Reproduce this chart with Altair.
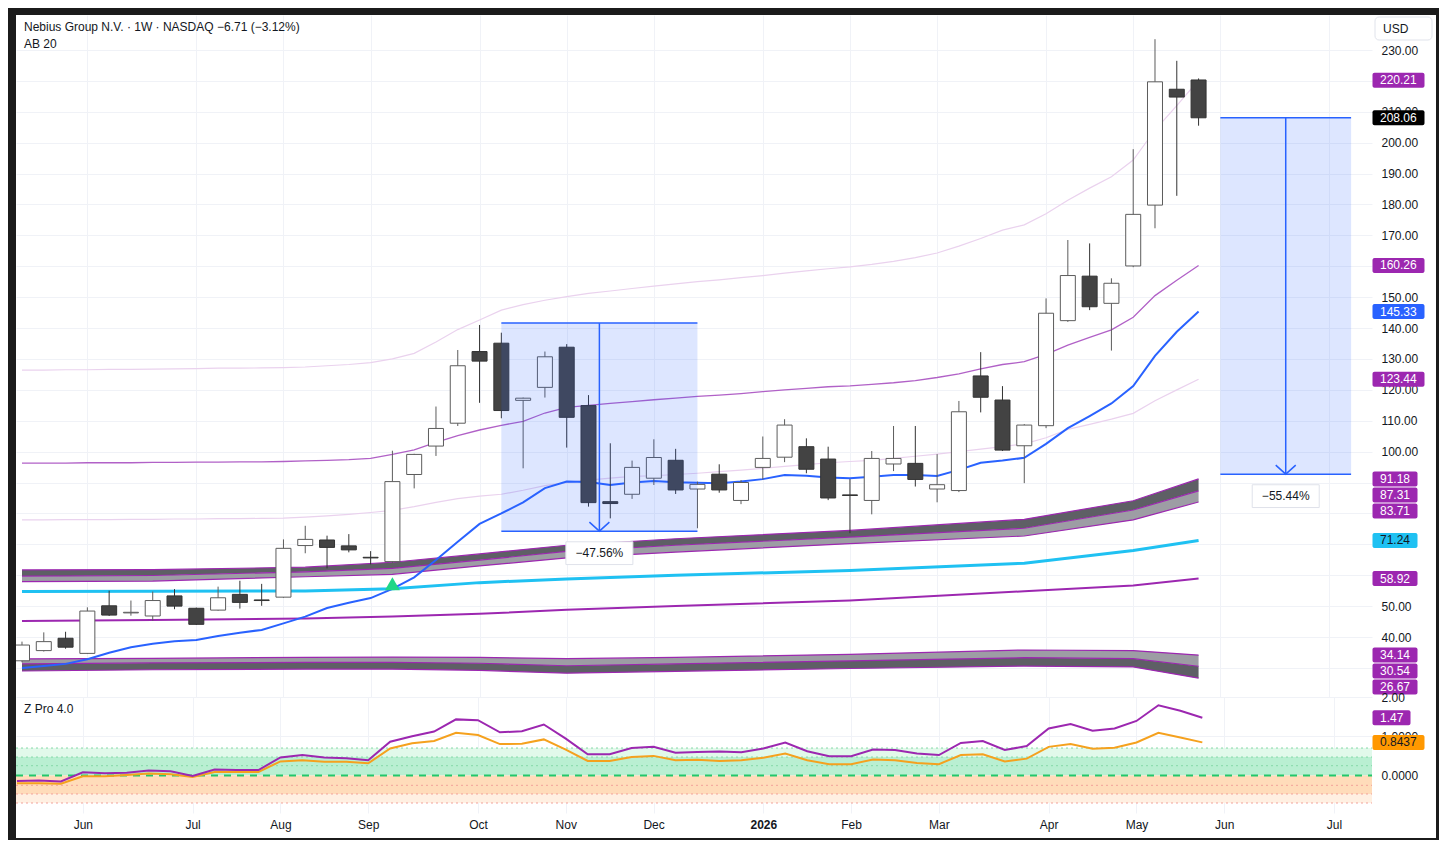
import altair as alt
import pandas as pd

# ----------------------------- DATA -----------------------------
first_week = "2025-05-12"          # first weekly bar on the chart

opens = [32.3, 35.6, 39.6, 34.7, 50.1, 47.8, 46.8, 53.3, 49.3, 48.7,
         53.8, 52.0, 52.9, 69.6, 71.4, 69.5, 65.8, 64.4, 92.6, 101.8,
         109.2, 132.4, 135.1, 116.6, 120.8, 133.8, 114.9, 83.8, 86.2, 91.4,
         97.2, 87.9, 92.7, 84.2, 94.9, 98.2, 101.6, 97.6, 86.0, 84.2,
         96.0, 96.2, 87.9, 87.4, 124.5, 116.7, 101.9, 108.4, 142.4, 156.8,
         148.0, 160.1, 179.8, 217.3, 220.3]
highs = [38.5, 41.5, 41.7, 49.6, 55.0, 51.8, 54.7, 55.5, 49.5, 56.3,
         58.2, 57.2, 71.6, 76.0, 72.8, 73.3, 67.8, 100.3, 99.3, 114.6,
         132.9, 141.0, 138.5, 117.5, 132.4, 134.8, 118.3, 102.7, 97.1, 104.0,
         100.9, 90.3, 95.9, 90.8, 104.9, 110.5, 104.3, 101.6, 91.1, 100.2,
         108.3, 108.3, 99.2, 116.4, 132.2, 121.2, 108.9, 149.6, 168.5, 167.4,
         156.1, 197.9, 233.5, 226.5, 220.8]
lows = [31.8, 35.3, 36.2, 34.5, 46.8, 46.9, 45.3, 49.0, 43.9, 48.5,
        49.2, 50.1, 52.7, 67.1, 62.2, 67.4, 63.5, 63.9, 88.1, 98.6,
        108.3, 115.8, 110.8, 94.6, 117.5, 101.3, 82.2, 78.4, 84.7, 89.2,
        86.3, 75.2, 86.7, 83.0, 91.0, 96.6, 93.0, 84.3, 73.6, 79.7,
        93.7, 88.7, 83.6, 86.9, 112.7, 100.2, 89.8, 107.6, 142.0, 145.8,
        132.7, 159.7, 172.3, 182.8, 205.5]
closes = [37.4, 38.5, 36.7, 48.4, 47.1, 48.0, 51.8, 50.0, 44.1, 52.7,
          51.2, 51.8, 68.7, 71.6, 69.0, 68.2, 65.6, 90.3, 99.1, 107.5,
          127.8, 129.3, 113.3, 117.3, 130.7, 111.1, 83.5, 83.2, 94.9, 98.1,
          87.6, 89.4, 87.6, 90.0, 97.8, 108.6, 94.3, 85.0, 85.8, 97.8,
          97.8, 91.0, 89.3, 112.9, 117.6, 100.5, 108.6, 144.8, 157.0, 146.9,
          154.5, 176.8, 219.7, 214.77, 208.06]

# AB 20 (blue) line, one value per week
ab20 = [30.0, 30.6, 31.3, 32.8, 34.9, 36.7, 37.8, 38.6, 39.0, 40.3,
        41.4, 42.3, 44.4, 46.6, 49.4, 51.1, 52.6, 55.6, 59.3, 64.9,
        70.8, 76.6, 80.0, 83.6, 88.2, 90.3, 90.2, 89.2, 90.0, 90.5,
        90.1, 89.9, 89.8, 90.3, 91.1, 92.4, 92.2, 91.6, 91.4, 91.9,
        92.4, 92.4, 92.1, 94.1, 96.4, 97.1, 98.0, 102.5, 107.6, 111.5,
        115.6, 121.2, 131.0, 138.8, 145.33]
# thin purple middle line
mid_line = [96.3, 96.3, 96.3, 96.4, 96.4, 96.4, 96.5, 96.5, 96.6, 96.6,
            96.7, 96.7, 96.8, 97.0, 97.2, 97.4, 97.8, 99.1, 100.6, 103.0,
            105.2, 107.0, 108.5, 109.8, 112.5, 114.3, 115.0, 115.6, 116.2, 116.8,
            117.3, 117.9, 118.3, 118.8, 119.4, 120.0, 120.5, 121.0, 121.3, 121.8,
            122.3, 123.0, 124.0, 125.2, 126.8, 128.2, 129.1, 131.5, 134.5, 137.0,
            139.4, 143.5, 150.5, 155.5, 160.26]
# light pink envelope lines
upper_env = [126.4, 126.4, 126.5, 126.5, 126.6, 126.6, 126.7, 126.8, 126.9, 127.0,
             127.0, 127.1, 127.2, 127.4, 127.8, 128.2, 128.8, 130.0, 131.8, 135.5,
             139.5, 142.6, 145.8, 147.6, 149.0, 150.2, 151.2, 152.0, 152.8, 153.6,
             154.3, 155.0, 155.6, 156.3, 157.0, 157.8, 158.5, 159.2, 159.8, 160.6,
             161.6, 162.8, 164.3, 166.5, 169.0, 171.7, 173.4, 177.0, 181.4, 185.3,
             189.0, 194.4, 204.1, 212.0, 220.21]
lower_env = [77.9, 77.9, 78.0, 78.0, 78.0, 78.1, 78.1, 78.2, 78.2, 78.3,
             78.3, 78.4, 78.5, 78.8, 79.2, 79.7, 80.3, 81.0, 82.2, 83.6,
             84.8, 85.6, 86.2, 87.5, 89.0, 90.0, 90.8, 91.4, 92.0, 92.2,
             92.6, 93.0, 93.5, 94.0, 94.6, 95.2, 95.8, 96.4, 96.8, 97.2,
             97.8, 98.5, 99.2, 100.0, 100.8, 101.6, 102.5, 104.5, 107.2, 108.8,
             110.5, 112.4, 116.5, 120.0, 123.44]

# slow lines / bands (read at these bar positions)
slow_idx = [0, 6, 13, 17, 21, 25, 30, 38, 46, 51, 54]
hb_top = [61.7, 61.8, 62.6, 64.2, 66.9, 69.7, 71.8, 74.5, 78.1, 84.1, 91.18]
hb_mid = [59.7, 59.9, 61.1, 62.2, 64.9, 67.7, 69.7, 72.3, 75.2, 81.1, 87.31]
hb_bot = [57.9, 58.1, 59.5, 60.3, 63.0, 65.6, 67.5, 70.2, 72.7, 77.9, 83.71]
cyan_line = [54.7, 54.8, 54.9, 55.6, 57.6, 58.8, 60.0, 61.5, 63.9, 68.0, 71.24]
purple_line = [45.2, 45.5, 46.0, 46.6, 47.5, 48.8, 50.0, 51.8, 54.8, 56.7, 58.92]
lb_top = [32.9, 33.1, 33.4, 33.5, 33.4, 33.0, 33.4, 34.4, 35.8, 35.6, 34.14]
lb_mid = [31.3, 31.6, 31.8, 31.8, 31.5, 30.7, 31.3, 32.3, 33.3, 33.0, 30.54]
lb_bot = [29.0, 29.4, 29.6, 29.6, 29.2, 28.3, 28.9, 29.8, 30.6, 30.3, 26.67]

# Z Pro 4.0 oscillator
z_fast = [-0.14, -0.13, -0.15, 0.08, 0.06, 0.07, 0.13, 0.11, -0.01, 0.15,
          0.14, 0.14, 0.46, 0.52, 0.46, 0.44, 0.39, 0.86, 1.00, 1.12,
          1.43, 1.41, 1.10, 1.13, 1.30, 0.94, 0.54, 0.54, 0.70, 0.73,
          0.58, 0.60, 0.61, 0.59, 0.69, 0.84, 0.62, 0.49, 0.49, 0.66,
          0.65, 0.56, 0.52, 0.83, 0.88, 0.65, 0.75, 1.20, 1.31, 1.14,
          1.20, 1.39, 1.79, 1.65, 1.47]
z_slow = [-0.20, -0.20, -0.21, -0.02, -0.02, 0.01, 0.05, 0.03, -0.04, 0.09,
          0.09, 0.09, 0.36, 0.39, 0.35, 0.35, 0.31, 0.69, 0.82, 0.88,
          1.09, 1.03, 0.80, 0.81, 0.92, 0.66, 0.37, 0.37, 0.47, 0.50,
          0.39, 0.40, 0.37, 0.39, 0.45, 0.56, 0.39, 0.29, 0.29, 0.41,
          0.39, 0.32, 0.29, 0.52, 0.54, 0.36, 0.43, 0.73, 0.80, 0.68,
          0.71, 0.84, 1.09, 0.97, 0.8437]
zone_lo = [0.47, 0.0, -0.47, -0.70]
zone_hi = [0.70, 0.47, 0.0, -0.47]
zone_colors = ["#e2f9eb", "#b9efd2", "#ffdcba", "#fff0e2"]
dot_levels = [0.70, 0.47, 0.25, -0.25, -0.47, -0.70]
dot_colors = ["#86d9a8", "#86d9a8", "#86d9a8", "#f2a19b", "#f2a19b", "#f2a19b"]

# signal marker (green triangle)
signal_idx = [17]
signal_val = [57.2]

# price-range measurements
meas_start = [22, 55]
meas_end = [31, 61]
meas_from = [141.6, 208.06]
meas_pct = [-47.56, -55.44]

# month ticks (first weekly bar of each month)
tick_dates = ["2025-06-02", "2025-07-07", "2025-08-04", "2025-09-01", "2025-10-06",
              "2025-11-03", "2025-12-01", "2026-01-05", "2026-02-02", "2026-03-02",
              "2026-04-06", "2026-05-04", "2026-06-01", "2026-07-06"]
tick_labels = ["Jun", "Jul", "Aug", "Sep", "Oct", "Nov", "Dec", "2026",
               "Feb", "Mar", "Apr", "May", "Jun", "Jul"]
price_ticks = list(range(30, 240, 10))

# right-scale value tags
price_tag_vals = [220.21, 208.06, 160.26, 145.33, 123.44, 91.18, 87.31, 83.71,
                  71.24, 58.92, 34.14, 30.54, 26.67]
price_tag_bg = ["#9c27b0", "#000000", "#9c27b0", "#2962ff", "#9c27b0", "#9c27b0",
                "#9c27b0", "#9c27b0", "#1fc1f2", "#9c27b0", "#9c27b0", "#9c27b0",
                "#9c27b0"]
price_tag_fg = ["white", "white", "white", "white", "white", "white", "white",
                "white", "#131722", "white", "white", "white", "white"]
z_tag_vals = [1.47, 0.8437]
z_tag_dec = [2, 4]
z_tag_bg = ["#9c27b0", "#ff9800"]
z_tag_fg = ["white", "#131722"]

# ----------------------------- LAYOUT -----------------------------
W, H1, H2 = 1356, 682, 116
X_DOM = [-0.0456, 61.73]
Y1_DOM = [20.58, 241.33]
Y2_DOM = [-0.955, 2.0]
TXT = "#131722"
GRID = "#f0f2f7"
PURPLE = "#9c27b0"
BLUE = "#2962ff"
FRAME = "#1b1b1b"
FONT = "Liberation Sans"
TAG_STEP = 16


def to_px(v, dom, H):
    return H * (dom[1] - v) / (dom[1] - dom[0])


def to_val(p, dom, H):
    return dom[1] - p * (dom[1] - dom[0]) / H


def stack_tags(vals, dom, H):
    order = sorted(range(len(vals)), key=lambda k: -vals[k])
    disp = [0.0] * len(vals)
    prev = -1e9
    for k in order:
        p = max(to_px(vals[k], dom, H), prev + TAG_STEP)
        disp[k] = p
        prev = p
    return disp


start = pd.Timestamp(first_week)
tick_idx = [int(round((pd.Timestamp(d) - start).days / 7)) for d in tick_dates]
year_idx = [t for t, l in zip(tick_idx, tick_labels) if l.isdigit()]

price_disp = stack_tags(price_tag_vals, Y1_DOM, H1)
# axis labels completely hidden under a value tag are left blank (their grid stays)
hidden = [t for t in price_ticks
          if any(abs(to_px(t, Y1_DOM, H1) - p) < 5 for p in price_disp)]

n = len(opens)
weekly = pd.DataFrame({
    "i": list(range(n)), "o": opens, "h": highs, "l": lows, "c": closes,
    "ab20": ab20, "mid": mid_line, "up_env": upper_env, "lo_env": lower_env,
    "zf": z_fast, "zs": z_slow,
})
weekly["body"] = ["#ffffff" if c >= o else "#434343" for o, c in zip(opens, closes)]
weekly["edge"] = ["#5c5c5c" if c >= o else "#333333" for o, c in zip(opens, closes)]

slow = pd.DataFrame({"i": slow_idx, "ht": hb_top, "hm": hb_mid, "hb": hb_bot,
                     "cy": cyan_line, "pu": purple_line,
                     "lt": lb_top, "lm": lb_mid, "lb": lb_bot})

meas = pd.DataFrame({"a": meas_start, "b": meas_end, "top": meas_from, "pct": meas_pct})
meas["m"] = (meas["a"] + meas["b"]) / 2
meas["bot"] = meas["top"] * (1 + meas["pct"] / 100)
meas["txt"] = ["\u2212" + f"{abs(p):.2f}%" for p in meas_pct]

sig = pd.DataFrame({"i": signal_idx, "v": signal_val})

XS = alt.Scale(domain=X_DOM, nice=False, zero=False)
YS1 = alt.Scale(domain=Y1_DOM, nice=False, zero=False)
YS2 = alt.Scale(domain=Y2_DOM, nice=False, zero=False)

AX_XT = alt.Axis(values=tick_idx, labels=False, ticks=False, domain=False, grid=True,
                 gridColor=GRID, title=None)
lab_js = ",".join(f"'{s}'" for s in tick_labels)
val_js = ",".join(str(v) for v in tick_idx)
bold_test = " || ".join(f"datum.value == {v}" for v in year_idx) or "false"
AX_XB = alt.Axis(values=tick_idx, labelExpr=f"[{lab_js}][indexof([{val_js}], datum.value)]",
                 labelFontWeight={"condition": {"test": bold_test, "value": "bold"}, "value": "normal"},
                 ticks=False, tickSize=0, domain=False, grid=True, gridColor=GRID,
                 labelPadding=6, labelFontSize=12, labelColor=TXT, labelFont=FONT,
                 labelOverlap=False, labelFlush=False, title=None)
hid_js = ",".join(str(v) for v in hidden) or "-999"
AX_Y1 = alt.Axis(orient="right", values=price_ticks,
                 labelExpr=f"indexof([{hid_js}], datum.value) >= 0 ? '' : format(datum.value, '.2f')",
                 ticks=False, tickSize=0, domain=False, grid=True, gridColor=GRID, labelPadding=9,
                 labelAlign="left", labelFontSize=12, labelColor=TXT, labelFont=FONT,
                 labelOverlap=False, title=None)
AX_Y2 = alt.Axis(orient="right", values=[0, 1, 2],
                 labelExpr="datum.value == 2 ? '2.00' : format(datum.value, '.4f')",
                 ticks=False, tickSize=0, domain=False, grid=True, gridColor=GRID,
                 labelPadding=9, labelAlign="left", labelFontSize=12, labelColor=TXT,
                 labelFont=FONT, labelOverlap=False, title=None)


def XT(f="i"):
    return alt.X(f"{f}:Q", scale=XS, axis=AX_XT)


def XB(f="i"):
    return alt.X(f"{f}:Q", scale=XS, axis=AX_XB)


def Y1(f):
    return alt.Y(f"{f}:Q", scale=YS1, axis=AX_Y1)


def Y2(f):
    return alt.Y(f"{f}:Q", scale=YS2, axis=AX_Y2)


one = pd.DataFrame({"k": [0]})


def frame(x1, x2, y1, y2):
    return alt.Chart(one).mark_rect(color=FRAME).encode(
        x=alt.value(x1), x2=alt.value(x2), y=alt.value(y1), y2=alt.value(y2))


def tags(vals, texts, bgs, fgs, dom, H, yfun):
    layers = []
    disp = stack_tags(vals, dom, H)
    for k in range(len(vals)):
        px = disp[k]
        df = pd.DataFrame({"lo": [to_val(px + 7.5, dom, H)], "hi": [to_val(px - 7.5, dom, H)],
                           "mid": [to_val(px, dom, H)], "txt": [texts[k]]})
        w = 7 * len(texts[k]) + 10
        layers.append(alt.Chart(df).mark_rect(color=bgs[k], cornerRadius=2).encode(
            x=alt.value(W + 0.5), x2=alt.value(W + 0.5 + w), y=yfun("lo"), y2=alt.Y2("hi")))
        layers.append(alt.Chart(df).mark_text(align="left", baseline="middle", fontSize=12,
                                              font=FONT, color=fgs[k]).encode(
            x=alt.value(W + 8), y=yfun("mid"), text="txt:N"))
    return layers


# ----------------------------- TOP PANE -----------------------------
top_layers = []
S = alt.Chart(slow)
top_layers.append(S.mark_area(color="#5e5f65", clip=True).encode(x=XT(), y=Y1("ht"), y2=alt.Y2("hm")))
top_layers.append(S.mark_area(color="#9d9da4", clip=True).encode(x=XT(), y=Y1("hm"), y2=alt.Y2("hb")))
top_layers.append(S.mark_area(color="#9d9da4", clip=True).encode(x=XT(), y=Y1("lt"), y2=alt.Y2("lm")))
top_layers.append(S.mark_area(color="#5e5f65", clip=True).encode(x=XT(), y=Y1("lm"), y2=alt.Y2("lb")))
for f in ["ht", "hm", "hb", "lt", "lm", "lb"]:
    top_layers.append(S.mark_line(color=PURPLE, strokeWidth=1.2, clip=True).encode(x=XT(), y=Y1(f)))
top_layers.append(S.mark_line(color=PURPLE, strokeWidth=2, clip=True).encode(x=XT(), y=Y1("pu")))
top_layers.append(S.mark_line(color="#1fc1f2", strokeWidth=3, clip=True).encode(x=XT(), y=Y1("cy")))

Wk = alt.Chart(weekly)
top_layers.append(Wk.mark_line(color="#ead2ee", strokeWidth=1.2, clip=True).encode(x=XT(), y=Y1("up_env")))
top_layers.append(Wk.mark_line(color="#ead2ee", strokeWidth=1.2, clip=True).encode(x=XT(), y=Y1("lo_env")))
top_layers.append(Wk.mark_line(color="#b161c7", strokeWidth=1.3, clip=True).encode(x=XT(), y=Y1("mid")))
top_layers.append(Wk.mark_line(color=BLUE, strokeWidth=2, clip=True).encode(x=XT(), y=Y1("ab20")))

# candles
top_layers.append(Wk.mark_rule(strokeWidth=1, clip=True).encode(
    x=XT(), y=Y1("l"), y2=alt.Y2("h"), color=alt.Color("edge:N", scale=None)))
top_layers.append(Wk.mark_bar(size=15, strokeWidth=1, clip=True).encode(
    x=XT(), y=Y1("o"), y2=alt.Y2("c"), fill=alt.Fill("body:N", scale=None),
    stroke=alt.Stroke("edge:N", scale=None)))

# measurements
M = alt.Chart(meas)
top_layers.append(M.mark_rect(color=BLUE, opacity=0.16).encode(
    x=XT("a"), x2=alt.X2("b"), y=Y1("top"), y2=alt.Y2("bot")))
top_layers.append(M.mark_rule(color=BLUE, strokeWidth=1.5).encode(x=XT("a"), x2=alt.X2("b"), y=Y1("top")))
top_layers.append(M.mark_rule(color=BLUE, strokeWidth=1.5).encode(x=XT("a"), x2=alt.X2("b"), y=Y1("bot")))
top_layers.append(M.mark_rule(color=BLUE, strokeWidth=1.5).encode(x=XT("m"), y=Y1("top"), y2=alt.Y2("bot")))
top_layers.append(M.mark_point(shape="M-1,-0.9L0,0L1,-0.9", size=400, filled=False, stroke=BLUE,
                               strokeWidth=1.5, opacity=1).encode(x=XT("m"), y=Y1("bot")))
top_layers.append(M.mark_point(shape="M-1,-0.34L1,-0.34L1,0.34L-1,0.34Z", size=4489, filled=True,
                               fill="white", stroke="#dfe2ea", strokeWidth=1, opacity=1,
                               yOffset=22).encode(x=XT("m"), y=Y1("bot")))
top_layers.append(M.mark_text(yOffset=22, fontSize=12, font=FONT, color=TXT).encode(
    x=XT("m"), y=Y1("bot"), text="txt:N"))

# signal
top_layers.append(alt.Chart(sig).mark_point(shape="triangle-up", size=225, filled=True,
                                            color="#1fd686", opacity=1).encode(x=XT(), y=Y1("v")))

# tags
top_layers += tags(price_tag_vals, [f"{v:.2f}" for v in price_tag_vals], price_tag_bg,
                   price_tag_fg, Y1_DOM, H1, Y1)

# USD box
top_layers.append(alt.Chart(one).mark_rect(fill="white", stroke="#e0e3eb", cornerRadius=4).encode(
    x=alt.value(W + 3), x2=alt.value(W + 60), y=alt.value(2), y2=alt.value(25)))
top_layers.append(alt.Chart(one).mark_text(text="USD", align="left", baseline="middle", fontSize=12,
                                           font=FONT, color=TXT).encode(
    x=alt.value(W + 11), y=alt.value(13.5)))

# titles
chg = closes[-1] - closes[-2]
chg_pct = chg / closes[-2] * 100
sign = "\u2212" if chg < 0 else "+"
title_txt = f"Nebius Group N.V. \u00b7 1W \u00b7 NASDAQ  {sign}{abs(chg):.2f} ({sign}{abs(chg_pct):.2f}%)"
top_layers.append(alt.Chart(one).mark_text(text=title_txt, align="left", baseline="middle",
                                           fontSize=12, font=FONT, color=TXT).encode(
    x=alt.value(8), y=alt.value(12)))
top_layers.append(alt.Chart(one).mark_text(text="AB 20", align="left", baseline="middle",
                                           fontSize=12, font=FONT, color=TXT).encode(
    x=alt.value(8), y=alt.value(29)))

# frame (dark window border)
top_layers += [frame(-8, W + 67, -7, 0), frame(-8, 0, -7, H1), frame(W + 64, W + 67, -7, H1)]

top = alt.layer(*top_layers).properties(width=W, height=H1)

# ----------------------------- BOTTOM PANE -----------------------------
zones = pd.DataFrame({"lo": zone_lo, "hi": zone_hi, "col": zone_colors})
dots = pd.DataFrame({"v": dot_levels, "col": dot_colors})
zero = pd.DataFrame({"v": [0.0]})

bot_layers = []
bot_layers.append(alt.Chart(zones).mark_rect().encode(
    x=alt.value(0), x2=alt.value(W), y=Y2("lo"), y2=alt.Y2("hi"),
    color=alt.Color("col:N", scale=None)))
bot_layers.append(alt.Chart(dots).mark_rule(strokeWidth=1, strokeDash=[2, 3]).encode(
    x=alt.value(0), x2=alt.value(W), y=Y2("v"), color=alt.Color("col:N", scale=None)))
bot_layers.append(alt.Chart(zero).mark_rule(strokeWidth=2, strokeDash=[7, 6], color="#22c76a").encode(
    x=alt.value(0), x2=alt.value(W), y=Y2("v")))
bot_layers.append(Wk.mark_line(color="#f5a11e", strokeWidth=2, clip=True).encode(x=XB(), y=Y2("zs")))
bot_layers.append(Wk.mark_line(color=PURPLE, strokeWidth=2, clip=True).encode(x=XB(), y=Y2("zf")))
bot_layers += tags(z_tag_vals, [f"{v:.{d}f}" for v, d in zip(z_tag_vals, z_tag_dec)], z_tag_bg,
                   z_tag_fg, Y2_DOM, H2, Y2)
bot_layers.append(alt.Chart(one).mark_text(text="Z Pro 4.0", align="left", baseline="middle",
                                           fontSize=12, font=FONT, color=TXT).encode(
    x=alt.value(8), y=alt.value(12)))
bot_layers += [frame(-8, 0, 0, H2 + 27), frame(W + 64, W + 67, 0, H2 + 27),
               frame(-8, W + 67, H2 + 25, H2 + 27)]

bottom = alt.layer(*bot_layers).properties(width=W, height=H2)

chart = alt.vconcat(top, bottom, spacing=0, bounds="flush", padding=0).configure(
    background="white", font=FONT).configure_view(stroke=None)

chart.save("out.html", embed_options={"renderer": "svg", "actions": False})
